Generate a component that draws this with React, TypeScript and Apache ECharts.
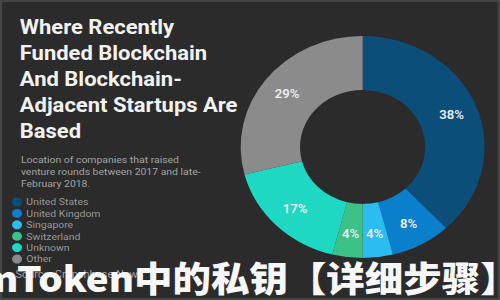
import React, { useEffect, useRef } from "react";
import * as echarts from "echarts";

const categories = ["United States", "United Kingdom", "Singapore", "Switzerland", "Unknown", "Other"];
const shares = [38, 8, 4, 4, 17, 29];
const sliceColors = ["#0b4e79", "#0a7fcb", "#2bbcf1", "#3cc289", "#1fd8c4", "#8b8b8b"];

const titleLines = [
  "Where Recently",
  "Funded Blockchain",
  "And Blockchain-",
  "Adjacent Startups Are",
  "Based",
];
const subtitleLines = [
  "Location of companies that raised",
  "venture rounds between 2017 and late-",
  "February 2018.",
];
const sourceText = "Source: Crunchbase News";
const watermarkText = "imToken中的私钥【详细步骤】";

const RAW_W = 455;
const SCALE_X = 500 / RAW_W;

export default function App() {
  const ref = useRef<HTMLDivElement>(null);
  useEffect(() => {
    if (!ref.current) return;
    const chart = echarts.init(ref.current, undefined, { renderer: "svg" });
    chart.setOption({
      animation: false,
      backgroundColor: "#2b2b2b",
      title: [
        {
          text: titleLines.join("\n"),
          left: 13,
          top: 9,
          textStyle: {
            color: "#f2f2f2",
            fontFamily: "Roboto",
            fontWeight: "bold",
            fontSize: 20,
            lineHeight: 26,
          },
        },
        {
          text: subtitleLines.join("\n"),
          left: 14,
          top: 148,
          textStyle: {
            color: "#a3a3a3",
            fontFamily: "Roboto",
            fontWeight: "normal",
            fontSize: 9.5,
            lineHeight: 12.4,
          },
        },
      ],
      legend: {
        orient: "vertical",
        left: 6,
        top: 192,
        icon: "circle",
        itemWidth: 9,
        itemHeight: 9,
        itemGap: 1.4,
        data: categories,
        textStyle: { color: "#989898", fontFamily: "Roboto", fontSize: 9.5, lineHeight: 9.5, padding: [0, 0, 0, -1] },
      },
      graphic: [
        {
          type: "rect",
          shape: { x: 1, y: 1, width: RAW_W - 2, height: 298 },
          style: { fill: "none", stroke: "#454545", lineWidth: 2 },
          silent: true,
        },
        {
          type: "text",
          left: 14,
          top: 270,
          style: { text: sourceText, fill: "#a3a3a3", font: "10px Roboto" },
          silent: true,
        },
        {
          type: "text",
          x: -29,
          y: 277,
          z: 100,
          style: {
            text: watermarkText,
            fill: "#f7f7f7",
            font: "900 35px 'Noto Sans CJK SC'",
            textVerticalAlign: "middle",
          },
          silent: true,
        },
      ],
      series: [
        {
          type: "pie",
          center: [330, 147],
          radius: [57, 111],
          startAngle: 90,
          clockwise: true,
          avoidLabelOverlap: false,
          label: {
            show: true,
            position: "inside",
            formatter: "{c}%",
            color: "#ececec",
            fontFamily: "Roboto",
            fontWeight: 600,
            fontSize: 12,
          },
          labelLine: { show: false },
          data: categories.map((name, i) => ({
            name,
            value: shares[i],
            itemStyle: { color: sliceColors[i] },
          })),
        },
      ],
    });
    return () => chart.dispose();
  }, []);
  return (
    <div
      style={{
        position: "fixed",
        left: 0,
        top: 0,
        width: 500,
        height: 300,
        overflow: "hidden",
        background: "#2b2b2b",
      }}
    >
      <div
        ref={ref}
        style={{
          width: RAW_W,
          height: 300,
          transform: `scaleX(${SCALE_X})`,
          transformOrigin: "0 0",
        }}
      />
    </div>
  );
}
